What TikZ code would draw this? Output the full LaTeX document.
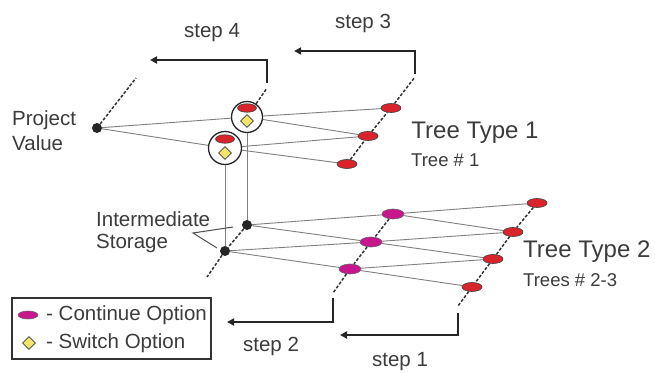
\documentclass[tikz,border=0pt]{standalone}
\usepackage{fontspec}
\setmainfont{Liberation Sans}
\usetikzlibrary{arrows.meta,shapes.geometric}
\definecolor{txt}{HTML}{3C3C3C}
\definecolor{redn}{HTML}{D8242A}
\definecolor{magn}{HTML}{C8168C}
\definecolor{yel}{HTML}{F2E46A}
\definecolor{edgec}{HTML}{808080}
\begin{document}
\begin{tikzpicture}[x=1pt,y=-1pt,
  lbl/.style={text=txt,font=\fontsize{20.5}{22}\selectfont,inner sep=0pt},
  big/.style={text=txt,font=\fontsize{24}{26}\selectfont,inner sep=0pt},
  small/.style={text=txt,font=\fontsize{18.5}{20}\selectfont,inner sep=0pt},
  rednode/.style={ellipse,draw=black!75,fill=redn,minimum width=20pt,minimum height=9pt,inner sep=0pt,line width=0.6pt},
  magnode/.style={ellipse,draw=black!60,fill=magn,minimum width=22pt,minimum height=10pt,inner sep=0pt,line width=0.6pt},
  swnode/.style={diamond,draw=black!75,fill=yel,minimum width=13pt,minimum height=13pt,inner sep=0pt,line width=0.6pt},
  dotnode/.style={circle,fill=black!85,minimum size=10pt,inner sep=0pt},
  ring/.style={circle,draw=black!85,line width=1.3pt,fill=white,inner sep=0pt},
  treeedge/.style={draw=edgec,line width=0.9pt},
  dashline/.style={draw=black!80,line width=1.5pt,dash pattern=on 3pt off 1.8pt},
  steparrow/.style={draw=black!85,line width=1.8pt,-{Triangle[length=7pt,width=7pt]}},
  callout/.style={draw=black!70,line width=1pt}
]
\useasboundingbox (0,0) rectangle (655,372);
\fill[white] (0,0) rectangle (655,372);

% ---- Tree type 1 ----
\node[dotnode] (pv) at (97,128) {};
\node[ring,minimum size=31pt] (c1) at (247,117) {};
\node[ring,minimum size=33pt] (c2) at (225,148) {};
\node[rednode,minimum width=19pt,minimum height=8.5pt] (c1r) at (247,108) {};
\node[swnode] (c1d) at (247,121) {};
\node[rednode,minimum width=19pt,minimum height=8.5pt] (c2r) at (225,139) {};
\node[swnode] (c2d) at (225,153) {};
\node[rednode] (t1a) at (391,108) {};
\node[rednode] (t1b) at (368,136) {};
\node[rednode] (t1c) at (347,164) {};

\path[treeedge] (pv) -- (c1);
\path[treeedge] (pv) -- (c2);
\path[treeedge] (c1) -- (t1a);
\path[treeedge] (c1) -- (t1b);
\path[treeedge] (c2) -- (t1b);
\path[treeedge] (c2) -- (t1c);

\coordinate (pvtop) at (136,78);
\coordinate (c1top) at (267,88);
\coordinate (t1top) at (415,77);
\path[dashline] (pv) -- (pvtop);
\path[dashline] (c1) -- (c1top);
\path[dashline] (t1c) -- (t1b) -- (t1a) -- (t1top);

% ---- step 4 and step 3 ----
\coordinate (s4a) at (267,83);
\coordinate (s4b) at (150,60);
\path[steparrow] (s4a) |- (s4b);
\node[lbl] (step4) at (212,33) {step 4};
\coordinate (s3a) at (415,74);
\coordinate (s3b) at (294,51);
\path[steparrow] (s3a) |- (s3b);
\node[lbl] (step3) at (363,23) {step 3};

\node[big] (tt1) at (475,133) {Tree Type 1};
\node[small,anchor=west] (tn1) at (411,160) {Tree \# 1};

\node[lbl,anchor=west] (pv1) at (12,120) {Project};
\node[lbl,anchor=west] (pv2) at (12,143) {Value};

% ---- Tree type 2 ----
\node[dotnode] (s1) at (247,225) {};
\node[dotnode] (s2) at (225,251) {};
\path[treeedge] (c1) -- (s1);
\path[treeedge] (c2) -- (s2);

\node[magnode] (m1) at (393,214) {};
\node[magnode] (m2) at (371,242) {};
\node[magnode] (m3) at (350,269) {};
\node[rednode] (r1) at (537,203) {};
\node[rednode] (r2) at (513,232) {};
\node[rednode] (r3) at (493,259) {};
\node[rednode] (r4) at (472,287) {};

\path[treeedge] (s1) -- (m1);
\path[treeedge] (s1) -- (m2);
\path[treeedge] (s2) -- (m2);
\path[treeedge] (s2) -- (m3);
\path[treeedge] (m1) -- (r1);
\path[treeedge] (m1) -- (r2);
\path[treeedge] (m2) -- (r2);
\path[treeedge] (m2) -- (r3);
\path[treeedge] (m3) -- (r3);
\path[treeedge] (m3) -- (r4);

\coordinate (sbot) at (207,277);
\coordinate (mbot) at (333,293);
\coordinate (rbot) at (458,306);
\path[dashline] (s1) -- (s2) -- (sbot);
\path[dashline] (m1) -- (m2) -- (m3) -- (mbot);
\path[dashline] (r1) -- (r2) -- (r3) -- (r4) -- (rbot);

% intermediate storage label
\node[lbl,anchor=west] (is1) at (96,219) {Intermediate};
\node[lbl,anchor=west] (is2) at (96,243) {Storage};
\coordinate (isv) at (193,233);
\coordinate (isa) at (233,227);
\coordinate (isb) at (217,248);
\path[callout] (isa) -- (isv) -- (isb);

\node[big,anchor=west] (tt2) at (523,252) {Tree Type 2};
\node[small,anchor=west] (tn2) at (523,280) {Trees \# 2-3};

% ---- step 2 and step 1 ----
\coordinate (s2a) at (333,298);
\coordinate (s2b) at (227,322);
\path[steparrow] (s2a) |- (s2b);
\node[lbl] (step2) at (271,346) {step 2};
\coordinate (s1a) at (458,313);
\coordinate (s1b) at (340,335);
\path[steparrow] (s1a) |- (s1b);
\node[lbl] (step1) at (400,362) {step 1};

% ---- legend ----
\node[draw=black!80,line width=1.2pt,minimum width=199pt,minimum height=61pt,inner sep=0pt] (legend) at (111.5,328.5) {};
\node[magnode,minimum width=20pt,minimum height=8pt] (lgm) at (28,315) {};
\node[lbl,anchor=west] (lgt1) at (46,315) {- Continue Option};
\node[swnode] (lgd) at (29,343) {};
\node[lbl,anchor=west] (lgt2) at (46,343) {- Switch Option};
\end{tikzpicture}
\end{document}
